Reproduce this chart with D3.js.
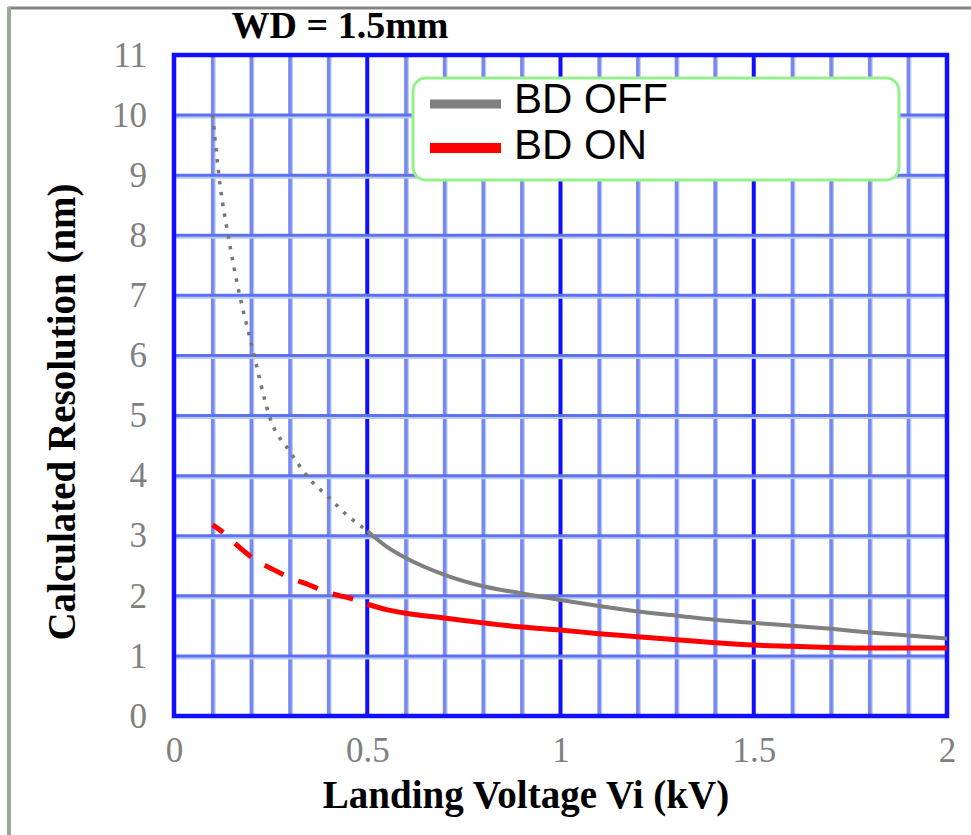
<!DOCTYPE html>
<html>
<head>
<meta charset="utf-8">
<script src="https://cdn.jsdelivr.net/npm/d3@7"></script>
<style>
  body { margin: 0; background: #fff; }
  svg { display: block; }
</style>
</head>
<body>
<div id="chart"></div>
<script>
// data
var offDottedX = [0.1, 0.12, 0.14, 0.17, 0.2, 0.25, 0.3, 0.35, 0.4, 0.45, 0.5];
var offDottedY = [10, 8.8, 8.0, 7.0, 6.2, 4.93, 4.4, 3.95, 3.64, 3.33, 3.08];
var offSolidX = [0.5, 0.55, 0.6, 0.7, 0.8, 0.9, 1.0, 1.1, 1.2, 1.3, 1.4, 1.5, 1.6, 1.7, 1.8, 1.9, 2.0];
var offSolidY = [3.08, 2.82, 2.63, 2.35, 2.16, 2.04, 1.93, 1.83, 1.74, 1.67, 1.6, 1.55, 1.5, 1.45, 1.39, 1.34, 1.29];
var onDashedX = [0.1, 0.13, 0.16, 0.21, 0.25, 0.3, 0.35, 0.4, 0.45, 0.5];
var onDashedY = [3.18, 3.04, 2.86, 2.6, 2.46, 2.3, 2.18, 2.05, 1.97, 1.88];
var onSolidX = [0.5, 0.55, 0.6, 0.7, 0.8, 0.9, 1.0, 1.1, 1.2, 1.3, 1.4, 1.5, 1.6, 1.7, 1.8, 1.9, 2.0];
var onSolidY = [1.86, 1.77, 1.71, 1.63, 1.55, 1.48, 1.43, 1.37, 1.32, 1.27, 1.22, 1.18, 1.16, 1.14, 1.13, 1.13, 1.13];

var xTicks = [0, 0.5, 1, 1.5, 2];
var xTickLabels = ["0", "0.5", "1", "1.5", "2"];
var yTicks = [0, 1, 2, 3, 4, 5, 6, 7, 8, 9, 10, 11];
var legendNames = ["BD OFF", "BD ON"];
var legendColors = ["#7f7f7f", "#ff0000"];

var width = 971, height = 835;
var plotLeft = 174, plotRight = 947, plotTop = 55, plotBottom = 716;
var serif = "'Liberation Serif', 'Times New Roman', serif";

var svg = d3.select("#chart").append("svg")
	.attr("width", width)
	.attr("height", height);

// outer frame (top and left edge of the original figure)
svg.append("line").attr("x1", 8).attr("y1", 8).attr("x2", width).attr("y2", 8)
	.attr("stroke", "#858585").attr("stroke-width", 3);
svg.append("line").attr("x1", 9).attr("y1", 7).attr("x2", 9).attr("y2", height)
	.attr("stroke", "#9aa898").attr("stroke-width", 4);

var x = d3.scaleLinear().domain([0, 2]).range([plotLeft, plotRight]);
var y = d3.scaleLinear().domain([0, 11]).range([plotBottom, plotTop]);

// grid
var grid = svg.append("g");
var vLines = d3.range(1, 20).map(function(i){ return i / 10; });
vLines.forEach(function(v){
	var major = Math.abs(v * 2 - Math.round(v * 2)) < 1e-6;
	var px = x(v);
	if (!major){
		grid.append("line").attr("x1", px + 1.5).attr("x2", px + 1.5).attr("y1", plotTop).attr("y2", plotBottom)
			.attr("stroke", "#b6cbee").attr("stroke-width", 3);
	}
	grid.append("line").attr("x1", px).attr("x2", px).attr("y1", plotTop).attr("y2", plotBottom)
		.attr("stroke", major ? "#1010ff" : "#7888f0").attr("stroke-width", major ? 4 : 3.5);
});
d3.range(1, 11).forEach(function(v){
	var py = y(v);
	grid.append("line").attr("x1", plotLeft).attr("x2", plotRight).attr("y1", py + 2).attr("y2", py + 2)
		.attr("stroke", "#b6cbee").attr("stroke-width", 3);
	grid.append("line").attr("x1", plotLeft).attr("x2", plotRight).attr("y1", py).attr("y2", py)
		.attr("stroke", "#6070f2").attr("stroke-width", 3);
});
grid.append("rect").attr("x", plotLeft).attr("y", plotTop)
	.attr("width", plotRight - plotLeft).attr("height", plotBottom - plotTop)
	.attr("fill", "none").attr("stroke", "#1010ff").attr("stroke-width", 4.5);

// curves
var line = d3.line()
	.x(function(d){ return x(d[0]); })
	.y(function(d){ return y(d[1]); })
	.curve(d3.curveMonotoneX);

function pairs(xs, ys){ return xs.map(function(v, i){ return [v, ys[i]]; }); }

svg.append("path").datum(pairs(offDottedX, offDottedY)).attr("d", line)
	.attr("fill", "none").attr("stroke", "#777").attr("stroke-width", 3.5)
	.attr("stroke-dasharray", "3.5,7.5");
svg.append("path").datum(pairs(offSolidX, offSolidY)).attr("d", line)
	.attr("fill", "none").attr("stroke", legendColors[0]).attr("stroke-width", 4);
svg.append("path").datum(pairs(onDashedX, onDashedY)).attr("d", line)
	.attr("fill", "none").attr("stroke", legendColors[1]).attr("stroke-width", 5)
	.attr("stroke-dasharray", "21,16").attr("stroke-dashoffset", 8);
svg.append("path").datum(pairs(onSolidX, onSolidY)).attr("d", line)
	.attr("fill", "none").attr("stroke", legendColors[1]).attr("stroke-width", 5);

// axes (labels only)
var xAxis = svg.append("g").attr("transform", "translate(0," + plotBottom + ")")
	.call(d3.axisBottom(x).tickValues(xTicks).tickFormat(function(d, i){ return xTickLabels[i]; }).tickSize(0).tickPadding(21));
var yAxis = svg.append("g").attr("transform", "translate(" + plotLeft + ",0)")
	.call(d3.axisLeft(y).tickValues(yTicks).tickFormat(d3.format("d")).tickSize(0).tickPadding(27));
[xAxis, yAxis].forEach(function(a){
	a.select(".domain").remove();
	a.selectAll("text")
		.attr("fill", "#808080")
		.style("font-family", serif)
		.style("font-size", "35px");
});

// titles
svg.append("text").attr("x", 340).attr("y", 38).attr("text-anchor", "middle")
	.style("font-family", serif)
	.style("font-weight", "bold").style("font-size", "38px")
	.text("WD = 1.5mm");
svg.append("text").attr("x", 526).attr("y", 808).attr("text-anchor", "middle")
	.style("font-family", serif)
	.style("font-weight", "bold").style("font-size", "39px")
	.text("Landing Voltage Vi (kV)");
svg.append("text").attr("transform", "translate(75,412) rotate(-90)").attr("text-anchor", "middle")
	.style("font-family", serif)
	.style("font-weight", "bold").style("font-size", "39px")
	.text("Calculated Resolution (nm)");

// legend
var legend = svg.append("g");
legend.append("rect").attr("x", 413).attr("y", 78).attr("width", 486).attr("height", 102)
	.attr("rx", 13).attr("ry", 13)
	.attr("fill", "#fff").attr("stroke", "#96f08c").attr("stroke-width", 3);
legendNames.forEach(function(name, i){
	var ly = 104 + i * 44;
	legend.append("line").attr("x1", 430).attr("x2", 501).attr("y1", ly).attr("y2", ly)
		.attr("stroke", legendColors[i]).attr("stroke-width", i === 0 ? 9 : 10);
	legend.append("text").attr("x", 514).attr("y", ly + 9 + i * 2)
		.style("font-family", "'Liberation Sans', Arial, sans-serif")
		.style("font-size", "42px")
		.text(name);
});
</script>
</body>
</html>
